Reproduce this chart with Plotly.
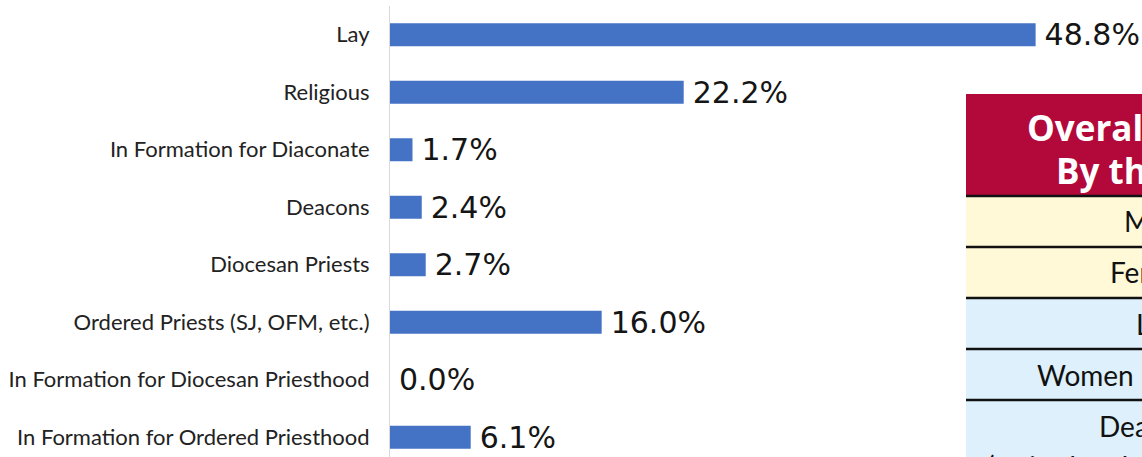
import plotly.graph_objects as go

categories = [
    "Lay",
    "Religious",
    "In Formation for Diaconate",
    "Deacons",
    "Diocesan Priests",
    "Ordered Priests (SJ, OFM, etc.)",
    "In Formation for Diocesan Priesthood",
    "In Formation for Ordered Priesthood",
]
values = [48.8, 22.2, 1.7, 2.4, 2.7, 16.0, 0.0, 6.1]

table_header = ["Overall Results", "By the Numbers"]
table_rows = ["Male", "Female", "Lay", "Women Religious", "Deacons"]
table_row_sub = "(retired and active)"

W, H = 1142, 457
ML, MR, MT, MB = 390, 0, 6, 0
PW, PH = W - ML - MR, H - MT - MB
SLOT = 57.5  # px per category


def px(x):
    return (x - ML) / PW


def py(y):
    return (H - MB - y) / PH


BAR_COLOR = "#4472C4"
LABEL_FONT = "Lato"
VALUE_FONT = "DejaVu Sans"
HEADER_FONT = "Open Sans"

fig = go.Figure()
fig.add_trace(
    go.Bar(
        x=values,
        y=categories,
        orientation="h",
        marker=dict(color=BAR_COLOR, line=dict(width=0)),
        width=0.4,
        text=[f"\u2009{v:.1f}%" for v in values],
        textposition="outside",
        constraintext="none",
        textfont=dict(family=VALUE_FONT, size=30, color="#151515"),
        cliponaxis=False,
        hoverinfo="skip",
    )
)

shapes = []
annotations = []

shapes.append(dict(type="rect", xref="paper", yref="paper",
                   x0=px(966), x1=px(1400), y0=py(196), y1=py(94),
                   fillcolor="#B3093A", line=dict(width=0), layer="above"))
row_colors = ["#FFF9D8", "#FFF9D8", "#DDF0FB", "#DDF0FB", "#DDF0FB"]
row_edges = [196, 247, 298, 349, 400, 520]
for i, c in enumerate(row_colors):
    shapes.append(dict(type="rect", xref="paper", yref="paper",
                       x0=px(966), x1=px(1400), y0=py(row_edges[i + 1]), y1=py(row_edges[i]),
                       fillcolor=c, line=dict(width=0), layer="above"))
for e in row_edges[:5]:
    shapes.append(dict(type="line", xref="paper", yref="paper",
                       x0=px(966), x1=px(1400), y0=py(e), y1=py(e),
                       line=dict(color="#111111", width=2.5), layer="above"))

hdr_x = [1025, 1054]
hdr_y = [127, 170]
for t, x, y in zip(table_header, hdr_x, hdr_y):
    annotations.append(dict(text=f"<b>{t}</b>", xref="paper", yref="paper",
                            x=px(x), y=py(y), xanchor="left", yanchor="middle",
                            showarrow=False, font=dict(family=HEADER_FONT, size=35, color="white")))
row_x = [1122, 1108, 1134, 1035, 1097]
row_y = [221.5, 272.5, 323.5, 374.5, 426]
for t, x, y in zip(table_rows, row_x, row_y):
    annotations.append(dict(text=t, xref="paper", yref="paper",
                            x=px(x), y=py(y), xanchor="left", yanchor="middle",
                            showarrow=False, font=dict(family=LABEL_FONT, size=28, color="#111111")))
annotations.append(dict(text=table_row_sub, xref="paper", yref="paper",
                        x=px(985), y=py(466), xanchor="left", yanchor="middle",
                        showarrow=False, font=dict(family=LABEL_FONT, size=28, color="#111111")))

fig.update_layout(
    width=W, height=H,
    margin=dict(l=ML, r=MR, t=MT, b=MB, pad=0),
    paper_bgcolor="white", plot_bgcolor="white",
    showlegend=False,
    bargap=0.6,
    xaxis=dict(range=[0, PW / 13.23], visible=False, fixedrange=True),
    yaxis=dict(
        type="category",
        categoryorder="array",
        categoryarray=list(reversed(categories)),
        range=[7.5 - PH / SLOT, 7.5],
        showline=True, linecolor="#D9D9D9", linewidth=1,
        showgrid=False, zeroline=False, ticks="",
        ticklabelstandoff=15,
        tickfont=dict(family=LABEL_FONT, size=22, color="#222222"),
        fixedrange=True,
    ),
    shapes=shapes,
    annotations=annotations,
)

fig.write_html(
    "out.html",
    config={"displayModeBar": False, "staticPlot": True},
    post_script="document.body.style.margin='0';document.body.style.overflow='hidden';",
)
